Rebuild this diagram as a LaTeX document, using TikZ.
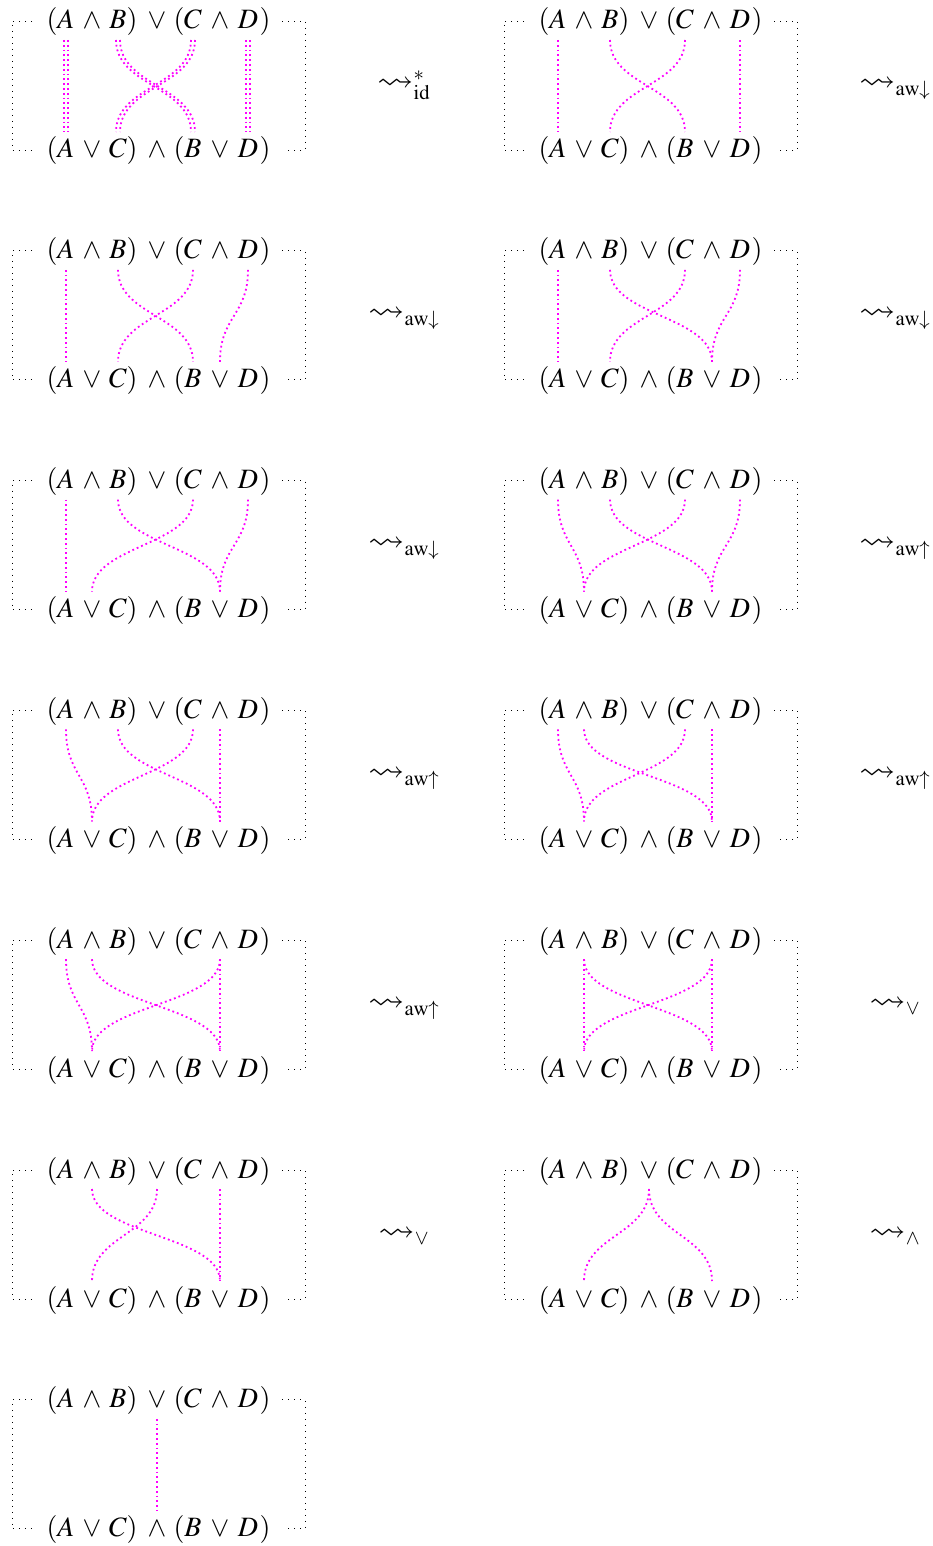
\documentclass[tikz,border=0pt]{standalone}
\usepackage{mathptmx}
\usepackage{amssymb}
\usepackage{graphicx}
\usetikzlibrary{calc}
\definecolor{strandmag}{RGB}{255,0,255}
\newcommand\sqarr{\mathrel{\scalebox{1.3}[1.15]{$\rightsquigarrow$}}}
\tikzset{
  box/.style={line width=0.4pt, dash pattern=on 0.4pt off 2.6pt},
  strand/.style={draw=strandmag, line width=0.9pt, dash pattern=on 0.9pt off 1.5pt},
  tok/.style={inner sep=0pt, anchor=base, font=\fontsize{14}{16}\selectfont},
  lab/.style={inner sep=0pt, anchor=base, font=\fontsize{14}{16}\selectfont},
}
\newcommand\mydiag[3]{% id, ox, oy
  \begin{scope}[shift={(#2,#3)}]
    \draw[box] (32,21) -- (12,21) -- (12,150) -- (35,150);
    \draw[box] (282,21) -- (305,21) -- (305,150) -- (286,150);
    \foreach \x/\tk/\n in {52/(/pa,66/A/1,92/\wedge/2,118/B/3,132/)/pb,157/\vee/4,179/(/pc,193/C/5,220/\wedge/6,248/D/7,265/)/pd}
      \node[tok] (#1-t\n) at (\x,29) {$\tk$};
    \foreach \x/\tk/\n in {52/(/qa,66/A/1,92/\vee/2,118/C/3,132/)/qb,157/\wedge/4,179/(/qc,193/B/5,220/\vee/6,248/D/7,265/)/qd}
      \node[tok] (#1-b\n) at (\x,158) {$\tk$};
    \foreach \x [count=\n] in {66,92,118,157,193,220,248} {
      \coordinate (#1-T\n) at (\x,40);
      \coordinate (#1-B\n) at (\x,132);
    }
  \end{scope}}
\newcommand\strands[3][0pt]{%
  \foreach \s/\e in {#3}
    \draw[strand] ([xshift=#1]#2-T\s) .. controls ($([xshift=#1]#2-T\s)+(0,46)$) and ($([xshift=#1]#2-B\e)+(0,-46)$) .. ([xshift=#1]#2-B\e);}
\begin{document}
\begin{tikzpicture}[x=0.5pt,y=-0.5pt]
\fill[white] (0,0) rectangle (932,1546);
\useasboundingbox (0,0) rectangle (932,1546);
% row 1
\mydiag{d1}{0}{0}
\strands[-1pt]{d1}{1/1,3/5,5/3,7/7}
\strands[1pt]{d1}{1/1,3/5,5/3,7/7}
\node[lab] (d1-lab) at (404,91) {$\sqarr^{*}_{\mathrm{id}}$};
\mydiag{d2}{492}{0}
\strands{d2}{1/1,3/5,5/3,7/7}
\node[lab] (d2-lab) at (895,91) {$\sqarr_{\mathrm{aw}\downarrow}$};
% row 2
\mydiag{d3}{0}{229.8}
\strands{d3}{1/1,3/5,5/3,7/6}
\node[lab] (d3-lab) at (404,320.8) {$\sqarr_{\mathrm{aw}\downarrow}$};
\mydiag{d4}{492}{229.8}
\strands{d4}{1/1,3/6,5/3,7/6}
\node[lab] (d4-lab) at (895,320.8) {$\sqarr_{\mathrm{aw}\downarrow}$};
% row 3
\mydiag{d5}{0}{459.6}
\strands{d5}{1/1,3/6,5/2,7/6}
\node[lab] (d5-lab) at (404,550.6) {$\sqarr_{\mathrm{aw}\downarrow}$};
\mydiag{d6}{492}{459.6}
\strands{d6}{1/2,3/6,5/2,7/6}
\node[lab] (d6-lab) at (895,550.6) {$\sqarr_{\mathrm{aw}\uparrow}$};
% row 4
\mydiag{d7}{0}{689.4}
\strands{d7}{1/2,3/6,5/2,6/6}
\node[lab] (d7-lab) at (404,780.4) {$\sqarr_{\mathrm{aw}\uparrow}$};
\mydiag{d8}{492}{689.4}
\strands{d8}{1/2,2/6,5/2,6/6}
\node[lab] (d8-lab) at (895,780.4) {$\sqarr_{\mathrm{aw}\uparrow}$};
% row 5
\mydiag{d9}{0}{919.2}
\strands{d9}{1/2,2/6,6/2,6/6}
\node[lab] (d9-lab) at (404,1010.2) {$\sqarr_{\mathrm{aw}\uparrow}$};
\mydiag{d10}{492}{919.2}
\strands{d10}{2/2,2/6,6/2,6/6}
\node[lab] (d10-lab) at (895,1010.2) {$\sqarr_{\vee}$};
% row 6
\mydiag{d11}{0}{1149}
\strands{d11}{2/6,4/2,6/6}
\node[lab] (d11-lab) at (404,1240) {$\sqarr_{\vee}$};
\mydiag{d12}{492}{1149}
\strands{d12}{4/2,4/6}
\node[lab] (d12-lab) at (895,1240) {$\sqarr_{\wedge}$};
% row 7
\mydiag{d13}{0}{1378.8}
\strands{d13}{4/4}
\end{tikzpicture}
\end{document}
